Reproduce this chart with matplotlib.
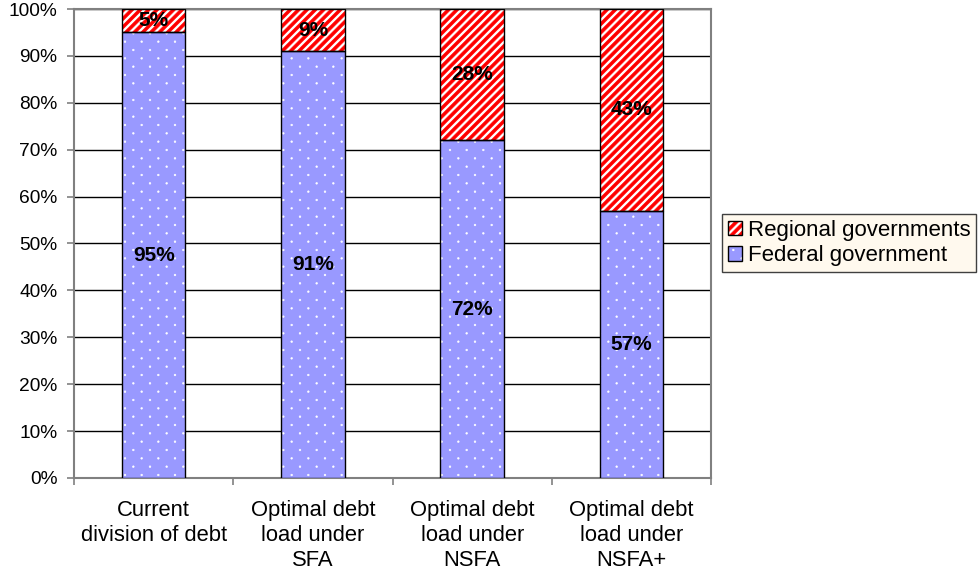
import numpy as np
import matplotlib
matplotlib.use("Agg")
import matplotlib.pyplot as plt
import matplotlib.hatch as mhatch
from matplotlib.path import Path
from matplotlib.patches import Patch

categories = ["Current\ndivision of debt",
              "Optimal debt\nload under\nSFA",
              "Optimal debt\nload under\nNSFA",
              "Optimal debt\nload under\nNSFA+"]
federal = [95, 91, 72, 57]
regional = [5, 9, 28, 43]
series_names = ["Regional governments", "Federal government"]
y_ticks = list(range(0, 101, 10))

BLUE = "#9999FF"
RED = "#FF0000"

# Custom fill textures (paths are in a 1-inch unit tile):
#   '.'  -> staggered white dots, rows every 1/12 in, columns every 1/6 in
#   '//' -> solid diagonal stripes, 12 per inch
_default_hatch_path = mhatch.get_path


def _dot_tile(n=6, r=0.0085):
    circle = Path.unit_circle()
    parts = []
    for row in range(2 * n + 1):
        y = row / (2 * n)
        if row % 2 == 0:
            xs = np.linspace(0, 1, n + 1)
        else:
            xs = np.linspace(0.5 / n, 1 - 0.5 / n, n)
        for x in xs:
            parts.append(Path(circle.vertices * r + [x, y], circle.codes))
    return Path.make_compound_path(*parts)


def _stripe_tile(n=12, w=0.042):
    parts = []
    for c in np.arange(-n, n + 1) / n:
        verts = [(c - w / 2, 0), (c + w / 2, 0), (c + 1 + w / 2, 1),
                 (c + 1 - w / 2, 1), (c - w / 2, 0)]
        codes = [Path.MOVETO, Path.LINETO, Path.LINETO, Path.LINETO,
                 Path.CLOSEPOLY]
        parts.append(Path(verts, codes))
    return Path.make_compound_path(*parts)


def _texture_path(hatchpattern, density=6):
    if hatchpattern == ".":
        return _dot_tile()
    if hatchpattern == "//":
        return _stripe_tile()
    return _default_hatch_path(hatchpattern, density)


mhatch.get_path = _texture_path

plt.rcParams["font.family"] = ["Liberation Sans", "DejaVu Sans"]
plt.rcParams["hatch.linewidth"] = 0.4

fig = plt.figure(figsize=(9.79, 5.81), dpi=100)
ax = fig.add_axes([0.0756, 0.1773, 0.6507, 0.8072])

x = np.arange(len(categories))
width = 0.40

# Federal segments: fill + white dots, then black outline
ax.bar(x, federal, width, color=BLUE, edgecolor="white", hatch=".",
       linewidth=0, zorder=3)
ax.bar(x, federal, width, fill=False, edgecolor="black", linewidth=1.0,
       zorder=4)
# Regional segments: white fill + red stripes, then black outline
ax.bar(x, regional, width, bottom=federal, color="white", edgecolor=RED,
       hatch="//", linewidth=0, zorder=3)
ax.bar(x, regional, width, bottom=federal, fill=False, edgecolor="black",
       linewidth=1.0, zorder=4)

for xi, f, r in zip(x, federal, regional):
    ax.text(xi, f / 2, f"{f}%", ha="center", va="center",
            fontsize=15, fontweight="bold", zorder=5)
    ax.text(xi, f + r / 2, f"{r}%", ha="center", va="center",
            fontsize=15, fontweight="bold", zorder=5)

ax.set_xlim(-0.5, len(categories) - 0.5)
ax.set_ylim(0, 100)
ax.set_yticks(y_ticks)
ax.set_yticklabels([f"{t}%" for t in y_ticks], fontsize=13.8)
ax.yaxis.grid(True, color="black", linewidth=1.0, zorder=1)
ax.set_axisbelow(True)

ax.set_xticks(x)
ax.set_xticklabels(categories, fontsize=15.8, linespacing=1.25)
ax.set_xticks(np.arange(-0.5, len(categories), 1.0), minor=True)
ax.tick_params(axis="x", which="major", length=0, pad=16)
ax.tick_params(axis="x", which="minor", length=5, color="#808080",
               direction="out", width=1.2)
ax.tick_params(axis="y", length=5, color="#808080", direction="out",
               width=1.2, pad=7)

for side in ["left", "top", "right", "bottom"]:
    ax.spines[side].set_color("#808080")
    ax.spines[side].set_linewidth(1.5)

handles = [
    (Patch(facecolor="white", edgecolor=RED, hatch="//", linewidth=0),
     Patch(fill=False, edgecolor="black", linewidth=1.0)),
    (Patch(facecolor=BLUE, edgecolor="white", hatch=".", linewidth=0),
     Patch(fill=False, edgecolor="black", linewidth=1.0)),
]
leg = fig.legend(handles, series_names, loc="center left",
                 bbox_to_anchor=(0.7375, 0.5818), fontsize=16,
                 frameon=True, fancybox=False, facecolor="#FFF9EE",
                 edgecolor="#404040", framealpha=1.0,
                 handlelength=0.65, handleheight=0.65, handletextpad=0.25,
                 borderpad=0.25, labelspacing=0.2, borderaxespad=0)
leg.get_frame().set_linewidth(1.0)

fig.savefig("out.png", dpi=100)
